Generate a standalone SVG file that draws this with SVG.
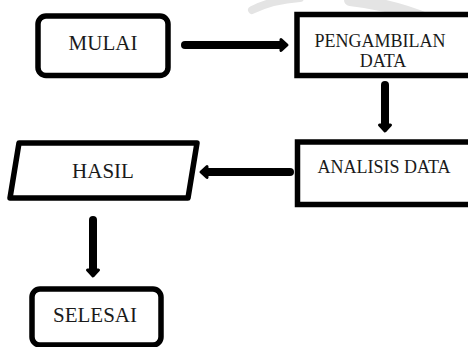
<svg xmlns="http://www.w3.org/2000/svg" width="468" height="347" viewBox="0 0 468 347">
<defs>
<style>
.box{fill:#fff;stroke:#000;stroke-width:5.5}
.t{font-family:"Liberation Serif","Times New Roman",serif;fill:#1a1a1a;text-anchor:middle}
.big{font-size:21px}
.sm{font-size:18px}
.ln{stroke:#000;stroke-width:8;stroke-linecap:round;fill:none}
.hd{fill:#000;stroke:#000;stroke-width:3;stroke-linejoin:round}
.wm{fill:none;stroke:#e4e4e4;stroke-linecap:round}
</style>
</defs>
<rect width="468" height="347" fill="#fff"/>
<g id="watermark">
<path class="wm" d="M252,10 C268,2 285,-1 300,-2" stroke-width="8"/>
<path class="wm" d="M350,0 C395,5 435,18 472,44" stroke-width="12"/>
</g>
<g id="connectors">
<line class="ln" x1="185" y1="45" x2="281" y2="45"/>
<polygon class="hd" points="281,39.5 287,45 281,50.5"/>
<line class="ln" x1="385" y1="85" x2="385" y2="125"/>
<polygon class="hd" points="379.5,125 385,131 390.5,125"/>
<line class="ln" x1="290" y1="172" x2="207" y2="172"/>
<polygon class="hd" points="207,166.5 201,172 207,177.5"/>
<line class="ln" x1="93" y1="220" x2="93" y2="270"/>
<polygon class="hd" points="87.5,270 93,276 98.5,270"/>
</g>
<g id="mulai">
<rect class="box" x="38" y="16" width="130" height="59.5" rx="8"/>
<text class="t big" x="103" y="50">MULAI</text>
</g>
<g id="pengambilan">
<rect class="box" x="297" y="14.5" width="200" height="61"/>
<text class="t sm" x="380" y="47">PENGAMBILAN</text>
<text class="t sm" x="383" y="67">DATA</text>
</g>
<g id="analisis">
<rect class="box" x="297.5" y="142" width="200" height="62.5"/>
<text class="t sm" x="384" y="173">ANALISIS DATA</text>
</g>
<g id="hasil">
<polygon class="box" points="19,143 197,143 188,198 10,198" stroke-linejoin="round"/>
<text class="t big" x="103" y="178">HASIL</text>
</g>
<g id="selesai">
<rect class="box" x="32" y="289" width="129" height="56" rx="8"/>
<text class="t big" x="95" y="322">SELESAI</text>
</g>
</svg>
